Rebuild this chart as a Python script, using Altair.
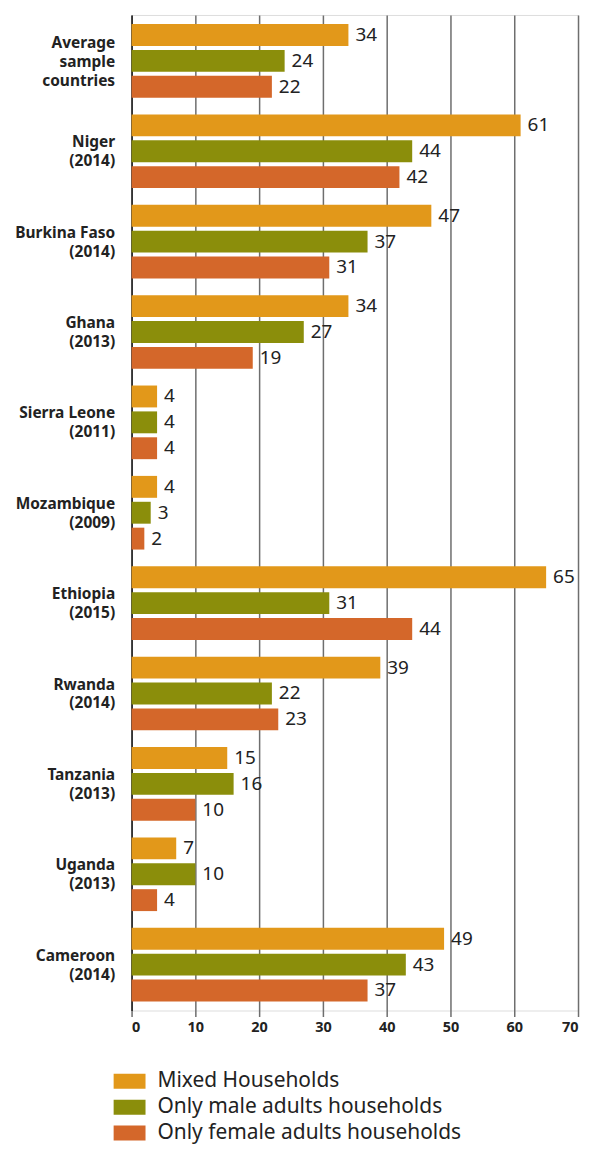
import altair as alt
import pandas as pd

countries = ["Average|sample|countries", "Niger|(2014)", "Burkina Faso|(2014)", "Ghana|(2013)",
             "Sierra Leone|(2011)", "Mozambique|(2009)", "Ethiopia|(2015)", "Rwanda|(2014)",
             "Tanzania|(2013)", "Uganda|(2013)", "Cameroon|(2014)"]
series = ["Mixed Households", "Only male adults households", "Only female adults households"]
mixed = [34, 61, 47, 34, 4, 4, 65, 39, 15, 7, 49]
male = [24, 44, 37, 27, 4, 3, 31, 22, 16, 10, 43]
female = [22, 42, 31, 19, 4, 2, 44, 23, 10, 4, 37]
colors = ["#E2981A", "#8B8E0B", "#D4672A"]

rows = []
for i, c in enumerate(countries):
    for s, vals in zip(series, [mixed, male, female]):
        rows.append({"country": c, "series": s, "value": vals[i]})
df = pd.DataFrame(rows)

FONT = "Noto Sans"

y = alt.Y("country:N", sort=countries, title=None,
          scale=alt.Scale(paddingInner=0.185, paddingOuter=0.1),
          axis=alt.Axis(labelExpr="split(datum.label, '|')", labelFont=FONT, labelFontSize=15.5,
                        labelFontWeight="bold", labelColor="#222", labelPadding=17, ticks=False,
                        domain=True, domainColor="#222", domainWidth=1.5, labelLineHeight=19,
                        labelOffset=alt.condition("datum.value == 'Average|sample|countries'",
                                                  alt.value(-18), alt.value(-9)),
                        minExtent=124, maxExtent=124, labelLimit=200))
yoff = alt.YOffset("series:N", sort=series,
                   scale=alt.Scale(paddingInner=0.154, paddingOuter=0))
x = alt.X("value:Q", title=None, scale=alt.Scale(domain=[0, 70], nice=False),
          axis=alt.Axis(values=[0, 10, 20, 30, 40, 50, 60, 70], grid=True, gridColor="#6e6e6e",
                        gridWidth=1.5, domain=False, tickColor="#6e6e6e", tickSize=6, tickWidth=1.5,
                        labelFont=FONT, labelFontSize=14.5, labelFontWeight="bold", labelColor="#222",
                        labelPadding=4))

color = alt.Color("series:N", sort=series, scale=alt.Scale(domain=series, range=colors),
                  legend=alt.Legend(title=None, orient="none", legendX=-18, legendY=1054,
                                    symbolType="M-1,-0.47H1V0.47H-1Z", symbolSize=1024,
                                    symbolStrokeWidth=0, symbolOpacity=1,
                                    labelFont=FONT, labelFontSize=21, labelColor="#222",
                                    labelOffset=12, rowPadding=-3, padding=0, labelLimit=400))

bars = alt.Chart(df).mark_bar().encode(y=y, yOffset=yoff, x=x, color=color)
text = alt.Chart(df).mark_text(align="left", dx=7, fontSize=19, font=FONT, color="#222").encode(
    y=alt.Y("country:N", sort=countries), yOffset=alt.YOffset("series:N", sort=series),
    x="value:Q", text="value:Q")

chart = alt.layer(bars, text).properties(
    width=448, height=999,
    padding={"left": 0, "top": 5, "right": 5, "bottom": 5}
).configure_view(fill="#F7F6EF", strokeWidth=0).configure(background="white")

chart.save("out.html", embed_options={"renderer": "svg", "actions": False})
